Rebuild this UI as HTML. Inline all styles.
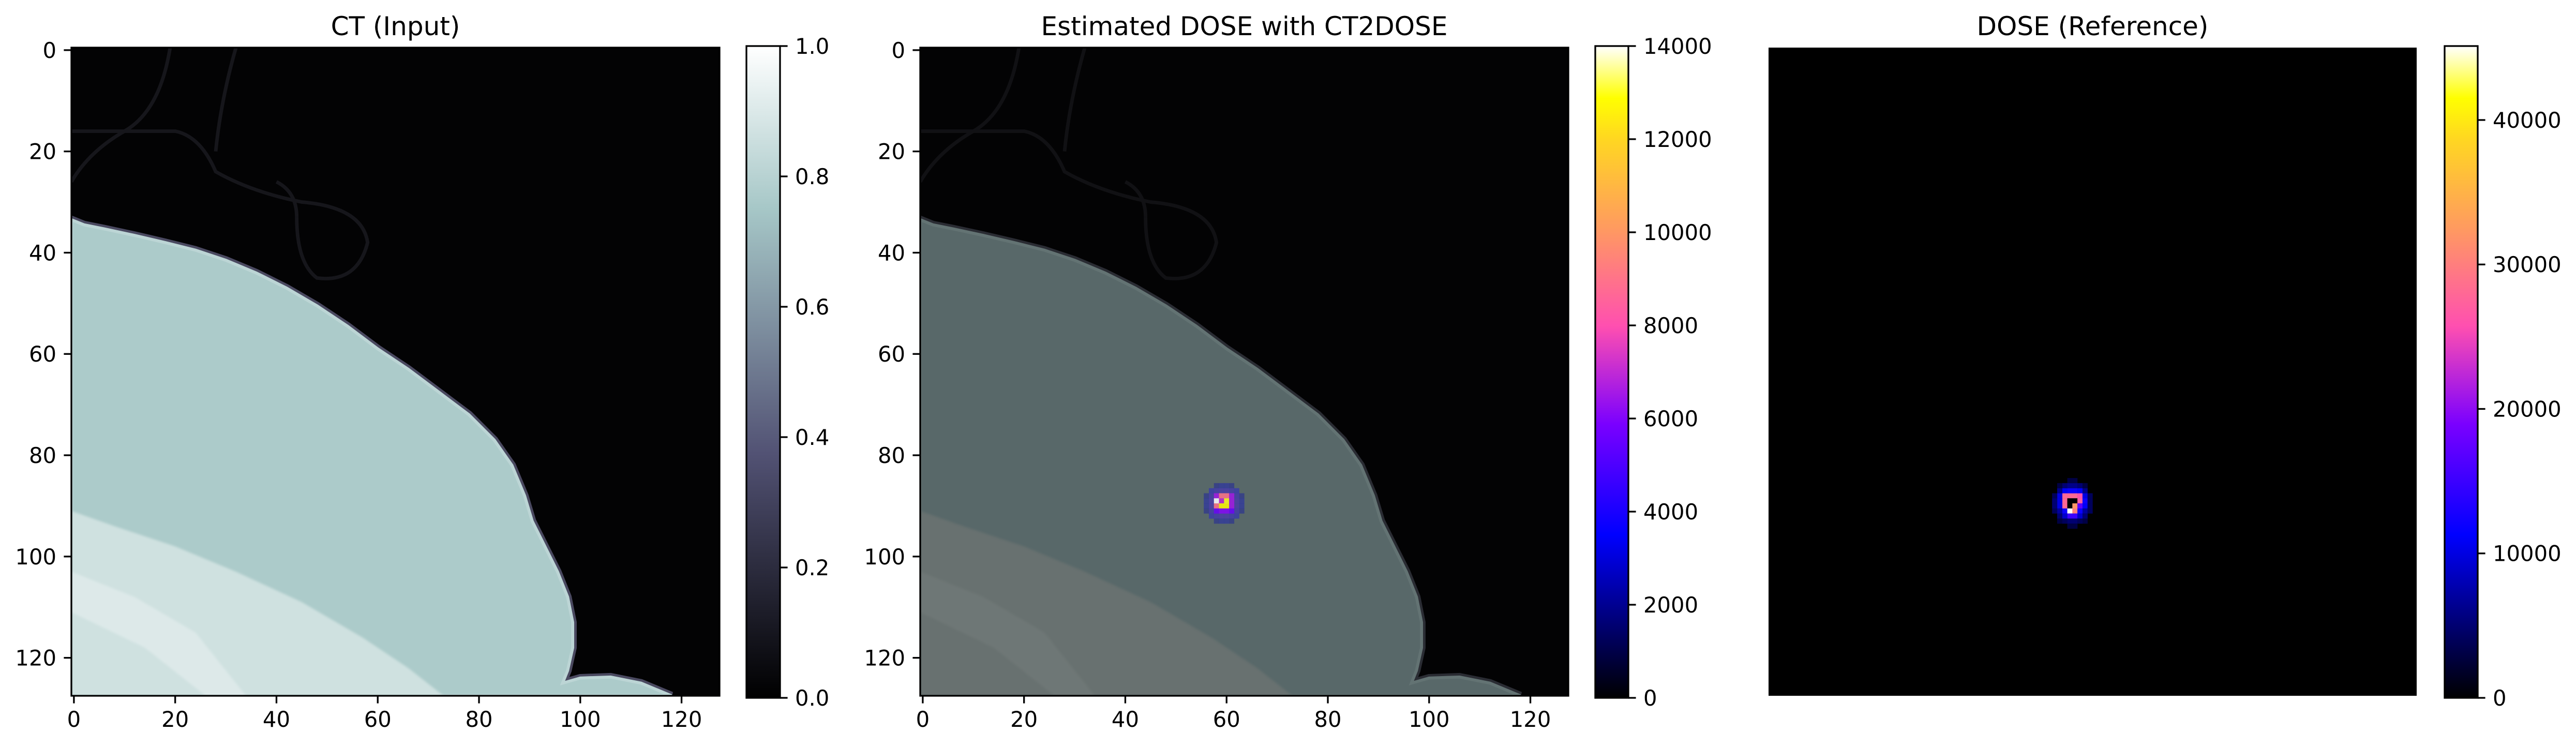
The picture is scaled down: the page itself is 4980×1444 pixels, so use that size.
<!DOCTYPE html>
<html><head><meta charset="utf-8">
<style>
html,body{margin:0;padding:0;background:#fff;}
svg{display:block;font-family:"DejaVu Sans","Liberation Sans",sans-serif;}
</style></head>
<body>
<svg id="fig" width="4980" height="1444" viewBox="0 0 4980 1444" xmlns="http://www.w3.org/2000/svg">
<defs>
<linearGradient id="boneGrad" x1="0" y1="1" x2="0" y2="0">
<stop offset="0" stop-color="#000000"/><stop offset="0.375" stop-color="#525274"/>
<stop offset="0.75" stop-color="#a6c7c7"/><stop offset="1" stop-color="#ffffff"/>
</linearGradient>
<linearGradient id="gnuGrad" x1="0" y1="1" x2="0" y2="0">
<stop offset="0" stop-color="#000000"/><stop offset="0.25" stop-color="#0000ff"/>
<stop offset="0.42" stop-color="#7a00ff"/><stop offset="0.57" stop-color="#ff4fb0"/>
<stop offset="0.72" stop-color="#ff9a60"/><stop offset="0.86" stop-color="#ffd820"/>
<stop offset="0.92" stop-color="#ffff00"/><stop offset="1" stop-color="#ffffff"/>
</linearGradient>
<filter id="blur" x="-50%" y="-50%" width="200%" height="200%"><feGaussianBlur stdDeviation="0.25"/></filter>
</defs>
</svg>
<script>
// ---- data ----
const xTicks = [0, 20, 40, 60, 80, 100, 120];
const yTicks = [0, 20, 40, 60, 80, 100, 120];
const ctCbTicks = [0.0, 0.2, 0.4, 0.6, 0.8, 1.0];
const ctCbLabels = ["0.0", "0.2", "0.4", "0.6", "0.8", "1.0"];
const estCbTicks = [0, 2000, 4000, 6000, 8000, 10000, 12000, 14000];
const refCbTicks = [0, 10000, 20000, 30000, 40000];
const ctRange = [0, 1];
const estRange = [0, 14000];
const refRange = [0, 45120];
const titles = ["CT (Input)", "Estimated DOSE with CT2DOSE", "DOSE (Reference)"];
// dose cells: [col,row,value]
const estCells = [
 [58,88,6500],[59,88,9000],[60,88,9000],[61,88,6500],
 [58,89,14000],[59,89,7000],[60,89,13000],[61,89,6500],
 [58,90,9000],[59,90,12800],[60,90,12800],[61,90,6500],
 [58,91,5500],[59,91,6000],[60,91,6000],[61,91,5500]
];
const estGlow = [
 [57,87,3800],[58,87,4200],[59,87,4500],[60,87,4500],[61,87,4200],[62,87,3800],
 [57,88,4200],[62,88,4200],[57,89,4500],[62,89,4500],[57,90,4500],[62,90,4500],
 [57,91,4200],[62,91,4200],[57,92,3800],[58,92,4200],[59,92,4500],[60,92,4500],[61,92,4200],[62,92,3800],
 [59,86,3000],[60,86,3000],[59,93,3000],[60,93,3000],[56,89,3000],[56,90,3000],[63,89,3000],[63,90,3000],
 [58,86,2500],[61,86,2500],[58,93,2500],[61,93,2500],[56,88,2500],[56,91,2500],[63,88,2500],[63,91,2500]
];
const refCells = [
 [58,88,28000],[59,88,28000],[60,88,28000],[61,88,26000],
 [58,89,28000],[59,89,0],[60,89,0],[61,89,27000],
 [58,90,28000],[59,90,0],[60,90,32000],[61,90,17000],
 [58,91,12000],[59,91,45000],[60,91,30000],[61,91,12000],
 [59,92,15000],[60,92,15000],[58,92,9000],[61,92,9000],
 [57,88,10000],[57,89,10000],[57,90,10000],[62,88,10000],[62,89,12000],[62,90,11000],
 [58,87,11000],[59,87,12000],[60,87,12000],[61,87,11000],
 [57,87,6000],[62,87,6000],[57,91,7000],[62,91,7000],[57,92,5000],[62,92,5000],
 [58,86,5000],[59,86,6000],[60,86,6000],[61,86,5000],[59,93,5000],[60,93,5000],
 [56,88,4000],[56,89,5000],[56,90,5000],[56,91,4000],[63,88,4000],[63,89,4000],[63,90,4000],[63,91,4000],
 [57,86,3000],[62,86,3000],[57,93,3000],[62,93,3000],[58,93,4000],[61,93,4000],[59,85,3000],[60,85,3000],[59,94,3000],[60,94,3000]
];

// ---- layout ----
const NS = "http://www.w3.org/2000/svg";
const fig = document.getElementById('fig');
const panels = [
 {left:138, cbL:1443, cbR:1508},
 {left:1779, cbL:3084, cbR:3148},
 {left:3419, cbL:4726, cbR:4790}
];
const AX = 1253, TOP = 92, CBTOP = 89, CBBOT = 1349, FS = 41.7;
function el(tag, attrs, parent){ const e=document.createElementNS(NS,tag); for(const k in attrs) e.setAttribute(k,attrs[k]); (parent||fig).appendChild(e); return e; }
function xPos(p,v){ return p.left + (v+0.5)*AX/128; }
function yPos(v){ return TOP + (v+0.5)*AX/128; }
function cbY(v,range){ return CBBOT - (v-range[0])/(range[1]-range[0])*(CBBOT-CBTOP); }
const gnuStops=[[0,[0,0,0]],[0.25,[0,0,255]],[0.42,[122,0,255]],[0.57,[255,79,176]],[0.72,[255,154,96]],[0.86,[255,216,32]],[0.92,[255,255,0]],[1,[255,255,255]]];
function gnu(t){ t=Math.max(0,Math.min(1,t)); for(let i=1;i<gnuStops.length;i++){ if(t<=gnuStops[i][0]){ const a=gnuStops[i-1],b=gnuStops[i]; const f=(t-a[0])/(b[0]-a[0]); const c=a[1].map((v,j)=>Math.round(v+(b[1][j]-v)*f)); return `rgb(${c[0]},${c[1]},${c[2]})`; } } return '#fff'; }

const bodyPath = "M -0.5 33.5 L 2 34.5 L 6 35.3 L 12 36.6 L 18 38 L 24 39.5 L 30 41.5 L 36 44 L 42 47 L 48 50.5 L 54 54.5 L 60 59 L 66 63 L 72 67.5 L 78 72 L 83 77 L 86.5 82 L 89 88 L 90.5 93 L 93 98 L 95.5 103 L 97.5 108 L 98.5 113 L 98.5 118 L 97.5 122.5 L 96.5 125 L 100 124 L 106 123.8 L 112 125 L 118 127.5 L -0.5 127.5 Z";
const bandPath = "M -0.5 91 L 8 94 L 20 98 L 32 103 L 45 109 L 57 116 L 66 122 L 73 127.5 L -0.5 127.5 Z";
const stripePath = "M -0.5 103 L 12 108 L 24 115 L 34 127.5 L 26 127.5 L 14 118 L -0.5 111 Z";
const tubePaths = ["M 19 -0.5 Q 17 12 10 16 Q 3 20 -0.5 26", "M -0.5 16 L 20 16 Q 25 17 28 24 Q 35 28 45 30 Q 57 31 58 38 Q 56 46 48 45 Q 44 42 44 33", "M 32 -0.5 Q 29 10 28 20", "M 44 33 Q 44 28 40 26"];

function drawCT(p, dim, name){
  const g = el('svg',{x:p.left,y:TOP,width:AX,height:AX,viewBox:"-0.5 -0.5 128 128",preserveAspectRatio:"none"});
  
  
  el('rect',{x:-0.5,y:-0.5,width:128,height:128,fill:'#030304'},g);
  tubePaths.forEach(d=>el('path',{d:d,fill:'none',stroke:dim?'#111114':'#16161b','stroke-width':0.7},g));
  el('path',{d:bodyPath,fill:'none',stroke:dim?'#2a2c33':'#4a4960','stroke-width':1.6},g);
  el('path',{d:bodyPath,fill:dim?'#586869':'#accbca'},g);
  el('path',{d:bodyPath,fill:'none',stroke:dim?'#637373':'#bcd5d5','stroke-width':0.6},g);
  el('path',{d:bandPath,fill:dim?'#687170':'#cfe1e0',filter:'url(#blur)'},g);
  el('path',{d:stripePath,fill:dim?'#6e7776':'#dde9e9',filter:'url(#blur)'},g);
  return g;
}
function drawCells(g, cells, range, alpha, name){
  cells.forEach(c=>{
    const r = el('rect',{x:c[0]-0.5,y:c[1]-0.5,width:1.02,height:1.02,fill:gnu((c[2]-range[0])/(range[1]-range[0])),opacity:alpha},g);
    
    
  });
}
function drawAxes(p, idx){
  const sp = el('rect',{x:p.left,y:TOP,width:AX,height:AX,fill:'none',stroke:'#000','stroke-width':3.3});
  
  
  xTicks.forEach(v=>{
    const x=xPos(p,v);
    el('line',{x1:x,x2:x,y1:TOP+AX,y2:TOP+AX+14.6,stroke:'#000','stroke-width':3.3});
    const t=el('text',{x:x,y:1405,'font-size':FS,'text-anchor':'middle'}); t.textContent=v;
    
    
  });
  yTicks.forEach(v=>{
    const y=yPos(v);
    el('line',{x1:p.left-14.6,x2:p.left,y1:y,y2:y,stroke:'#000','stroke-width':3.3});
    const t=el('text',{x:p.left-29,y:y+15,'font-size':FS,'text-anchor':'end'}); t.textContent=v;
    
    
  });
}
function drawTitle(p, text){
  const t=el('text',{x:p.left+AX/2,y:68,'font-size':50,'text-anchor':'middle'}); t.textContent=text;
  
  
}
function drawCb(p, grad, ticks, labels, range, name){
  const r=el('rect',{x:p.cbL,y:CBTOP,width:p.cbR-p.cbL,height:CBBOT-CBTOP,fill:'url(#'+grad+')',stroke:'#000','stroke-width':3.3});
  
  
  ticks.forEach((v,i)=>{
    const y=cbY(v,range);
    el('line',{x1:p.cbR,x2:p.cbR+14.6,y1:y,y2:y,stroke:'#000','stroke-width':3.3});
    const t=el('text',{x:p.cbR+29,y:y+15,'font-size':FS}); t.textContent=labels?labels[i]:v;
    
    
  });
}

// Panel 1
drawCT(panels[0], false, 'ct-image');
drawAxes(panels[0], 0);
drawTitle(panels[0], titles[0]);
drawCb(panels[0], 'boneGrad', ctCbTicks, ctCbLabels, ctRange, 'ct-colorbar');
// Panel 2
const g2 = drawCT(panels[1], true, 'estimated-dose-image');
drawCells(g2, estGlow, estRange, 0.35, 'dose-glow-cell');
drawCells(g2, estCells, estRange, 0.85, 'dose-cell');
drawAxes(panels[1], 1);
drawTitle(panels[1], titles[1]);
drawCb(panels[1], 'gnuGrad', estCbTicks, null, estRange, 'estimated-dose-colorbar');
// Panel 3
const g3 = el('svg',{x:panels[2].left,y:TOP,width:AX,height:AX,viewBox:"-0.5 -0.5 128 128",preserveAspectRatio:"none"});


el('rect',{x:-0.5,y:-0.5,width:128,height:128,fill:'#000'},g3);
drawCells(g3, refCells, refRange, 1, 'ref-dose-cell');
drawTitle(panels[2], titles[2]);
drawCb(panels[2], 'gnuGrad', refCbTicks, null, refRange, 'reference-dose-colorbar');
</script>
</body></html>
